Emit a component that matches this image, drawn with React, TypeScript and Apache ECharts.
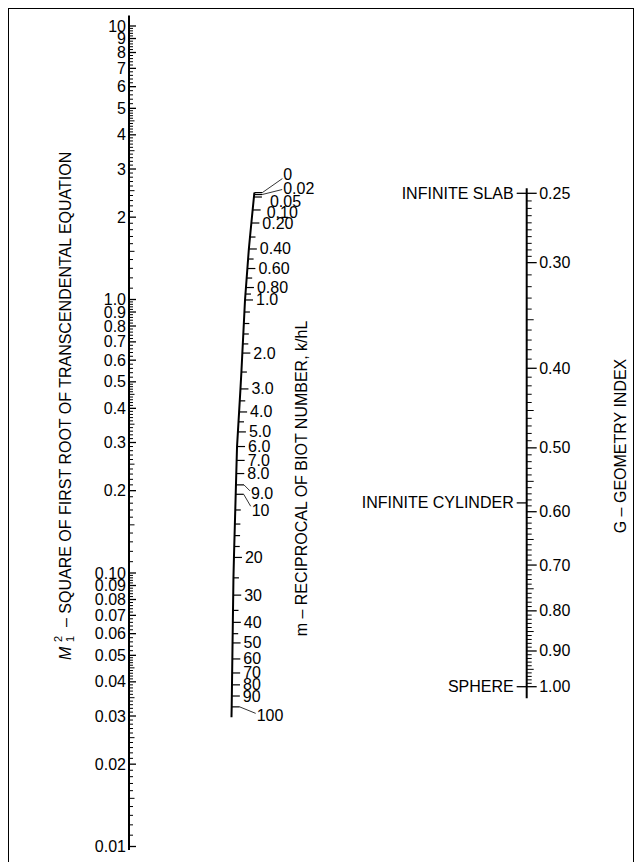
import React, { useEffect, useRef } from 'react';
import * as echarts from 'echarts';

const FONT = '"Liberation Sans", Arial, Helvetica, sans-serif';

// ---------------- Left scale: M1^2 (logarithmic) ----------------
const leftMajorValues = [
  0.01, 0.02, 0.03, 0.04, 0.05, 0.06, 0.07, 0.08, 0.09, 0.1,
  0.2, 0.3, 0.4, 0.5, 0.6, 0.7, 0.8, 0.9, 1,
  2, 3, 4, 5, 6, 7, 8, 9, 10,
];
const leftMajorLabels = [
  '0.01', '0.02', '0.03', '0.04', '0.05', '0.06', '0.07', '0.08', '0.09', '0.10',
  '0.2', '0.3', '0.4', '0.5', '0.6', '0.7', '0.8', '0.9', '1.0',
  '2', '3', '4', '5', '6', '7', '8', '9', '10',
];
const leftDecades = [0.01, 0.1, 1];
// subdivisions of each decade, in tenths of its unit: [from, to, step]
const leftMinorRanges = [
  [10, 50, 1],
  [50, 100, 2],
];

// ---------------- Middle scale: m = k/hL (curved) ----------------
const mValues = [
  0, 0.02, 0.05, 0.1, 0.2, 0.3, 0.4, 0.5, 0.6, 0.7, 0.8, 0.9, 1,
  1.2, 1.4, 1.6, 1.8, 2, 2.5, 3, 3.5, 4, 4.5, 5, 6, 7, 8, 9, 10,
  12, 14, 16, 18, 20, 25, 30, 35, 40, 45, 50, 60, 70, 80, 90, 100,
];
const mLabels = [
  '0', '0.02', '0.05', '0.10', '0.20', '', '0.40', '', '0.60', '', '0.80', '', '1.0',
  '', '', '', '', '2.0', '', '3.0', '', '4.0', '', '5.0', '6.0', '7.0', '8.0', '9.0', '10',
  '', '', '', '', '20', '', '30', '', '40', '', '50', '60', '70', '80', '90', '100',
];
// height of each m tick, read as the M1^2 value level with it on the left scale
const mLevels = [
  2.46, 2.42, 2.37, 2.125, 1.904, 1.692, 1.53, 1.406, 1.298, 1.198, 1.106, 1.047, 0.996,
  0.9, 0.817, 0.748, 0.688, 0.637, 0.543, 0.471, 0.426, 0.388, 0.357, 0.328, 0.29, 0.258, 0.231, 0.21, 0.194,
  0.17, 0.151, 0.137, 0.125, 0.114, 0.096, 0.083, 0.073, 0.066, 0.06, 0.0555, 0.0485, 0.0431, 0.039, 0.0355, 0.0324,
];
// shape of the m curve: level on the M1^2 scale and horizontal place (0 = M1^2 axis, 1 = G axis)
const curveLevels = [2.46, 1.555, 0.996, 0.508, 0.289, 0.1, 0.0324, 0.0297];
const curveX = [0.315, 0.3015, 0.2915, 0.2814, 0.2714, 0.2626, 0.258, 0.2575];

// ---------------- Right scale: G geometry index ----------------
const gMajorValues = [0.25, 0.3, 0.4, 0.5, 0.6, 0.7, 0.8, 0.9, 1.0];
const gMajorLabels = ['0.25', '0.30', '0.40', '0.50', '0.60', '0.70', '0.80', '0.90', '1.00'];
const gMarkerNames = ['INFINITE SLAB', 'INFINITE CYLINDER', 'SPHERE'];
const gMarkerValues = [0.25, 0.585, 1.0];

// the printed G scale (fitted to its ticks)
const gScale = (g: number) => Math.log10(g - 0.04);

type Tick = { v: number; kind: number; label: string };

const leftTicks: Tick[] = [];
leftMajorValues.forEach((v, i) => leftTicks.push({ v, kind: 0, label: leftMajorLabels[i] }));
leftDecades.forEach((b) =>
  leftMinorRanges.forEach(([a, c, s]) => {
    for (let n = a; n < c; n += s) {
      if (n % 10 === 0) continue;
      leftTicks.push({ v: +((n * b) / 10).toPrecision(6), kind: n % 5 === 0 ? 1 : 2, label: '' });
    }
  })
);

const gTicks: Tick[] = [];
gMajorValues.forEach((v, i) => gTicks.push({ v, kind: 0, label: gMajorLabels[i] }));
for (let k = 50; k <= 200; k++) {
  const g = k / 200;
  if (k >= 60 && k % 2 === 1) continue;
  if (gMajorValues.some((m) => Math.abs(m - g) < 1e-9)) continue;
  gTicks.push({ v: g, kind: k % 10 === 0 ? 1 : 2, label: '' });
}

const curveXAt = (level: number) => {
  const L = Math.log10(level);
  const n = curveLevels.length;
  if (L >= Math.log10(curveLevels[0])) return curveX[0];
  for (let i = 0; i < n - 1; i++) {
    const a = Math.log10(curveLevels[i]);
    const b = Math.log10(curveLevels[i + 1]);
    if (L <= a && L >= b) {
      const f = (L - a) / (b - a);
      return curveX[i] + f * (curveX[i + 1] - curveX[i]);
    }
  }
  return curveX[n - 1];
};

const mPoints = mValues.map((_, i) => [curveXAt(mLevels[i]), mLevels[i]]);
const curvePoints = [
  [curveX[0], curveLevels[0]],
  ...mPoints,
  [curveX[curveX.length - 1], curveLevels[curveLevels.length - 1]],
];

// label nudges (layout only)
const mLabelNudge: Record<string, { dx: number; dy: number; leader?: number }> = {
  '0': { dx: 18, dy: -18.5, leader: 4.5 },
  '0.02': { dx: 18, dy: -6, leader: 1 },
  '0.05': { dx: 5, dy: 4.5 },
  '0.10': { dx: 3, dy: 2.5 },
  '9.0': { dx: 4, dy: 9, leader: -3 },
  '10': { dx: 5, dy: 16, leader: -4 },
  '100': { dx: 14, dy: 8.5, leader: -2 },
};

const seg = (x1: number, y1: number, x2: number, y2: number, w = 1) => ({
  type: 'line',
  silent: true,
  shape: { x1, y1, x2, y2 },
  style: { stroke: '#000', lineWidth: w },
});

const txt = (text: string, x: number, y: number, align: string, size = 16, extra: any = {}) => ({
  type: 'text',
  x,
  y,
  silent: true,
  style: {
    text,
    fill: '#000',
    fontSize: size,
    fontFamily: FONT,
    align,
    verticalAlign: 'middle',
    textAlign: align,
    textVerticalAlign: 'middle',
    ...extra,
  },
});

function buildOption(): any {
  return {
    animation: false,
    backgroundColor: '#fff',
    grid: [
      { left: 120, top: 17, width: 398, height: 820.5 },
      { left: 517.7, top: 184.3, width: 10, height: 493.4 },
    ],
    xAxis: [
      { type: 'value', gridIndex: 0, min: 0, max: 1, show: false },
      { type: 'value', gridIndex: 1, min: 0, max: 1, show: false },
    ],
    yAxis: [
      { type: 'log', logBase: 10, gridIndex: 0, min: 0.01, max: 10, show: false },
      { type: 'value', gridIndex: 1, inverse: true, min: gScale(0.25), max: gScale(1.0), show: false },
    ],
    series: [
      // left axis line
      {
        type: 'custom',
        xAxisIndex: 0,
        yAxisIndex: 0,
        clip: false,
        silent: true,
        data: [[0, leftMajorValues[0], leftMajorValues[leftMajorValues.length - 1]]],
        renderItem: (params: any, api: any) => {
          const top = api.coord([0, api.value(2)]);
          const bot = api.coord([0, api.value(1)]);
          return seg(top[0], top[1] - 10.5, bot[0], bot[1] + 3.5, 2);
        },
      },
      // left ticks and labels
      {
        type: 'custom',
        xAxisIndex: 0,
        yAxisIndex: 0,
        clip: false,
        silent: true,
        data: leftTicks.map((t) => [0, t.v, t.kind]),
        renderItem: (params: any, api: any) => {
          const t = leftTicks[params.dataIndex];
          const p = api.coord([0, t.v]);
          const len = [7, 5.5, 4][t.kind];
          const children: any[] = [seg(p[0], p[1], p[0] + len, p[1], t.kind === 0 ? 1.3 : 1)];
          if (t.label) children.push(txt(t.label, p[0] - 3, p[1], 'right'));
          return { type: 'group', children };
        },
      },
      // m curve
      {
        type: 'line',
        xAxisIndex: 0,
        yAxisIndex: 0,
        data: curvePoints,
        symbol: 'none',
        showSymbol: false,
        silent: true,
        clip: false,
        lineStyle: { color: '#000', width: 2 },
      },
      // m ticks and labels
      {
        type: 'custom',
        xAxisIndex: 0,
        yAxisIndex: 0,
        clip: false,
        silent: true,
        data: mPoints,
        renderItem: (params: any, api: any) => {
          const i = params.dataIndex;
          const p = api.coord([api.value(0), api.value(1)]);
          const lab = mLabels[i];
          const len = lab ? 8 : 5.5;
          const x2 = p[0] + len;
          const children: any[] = [seg(p[0], p[1], x2, p[1], 1.2)];
          if (lab) {
            const n = mLabelNudge[lab] || { dx: 0, dy: 0 };
            const lx = x2 + 3 + n.dx;
            const ly = p[1] + n.dy;
            children.push(txt(lab, lx, ly, 'left'));
            if (n.leader !== undefined) children.push(seg(x2, p[1], lx - 1, ly + n.leader, 0.8));
          }
          return { type: 'group', children };
        },
      },
      // G axis line
      {
        type: 'custom',
        xAxisIndex: 1,
        yAxisIndex: 1,
        clip: false,
        silent: true,
        data: [[0, gScale(gMajorValues[0]), gScale(gMajorValues[gMajorValues.length - 1])]],
        renderItem: (params: any, api: any) => {
          const top = api.coord([0, api.value(1)]);
          const bot = api.coord([0, api.value(2)]);
          return seg(top[0], top[1] - 5, bot[0], bot[1] + 11.5, 2);
        },
      },
      // G ticks and labels
      {
        type: 'custom',
        xAxisIndex: 1,
        yAxisIndex: 1,
        clip: false,
        silent: true,
        data: gTicks.map((t) => [0, gScale(t.v)]),
        renderItem: (params: any, api: any) => {
          const t = gTicks[params.dataIndex];
          const p = api.coord([0, api.value(1)]);
          const len = [10, 7, 5][t.kind];
          const children: any[] = [seg(p[0], p[1], p[0] + len, p[1], t.kind === 0 ? 1.3 : 1)];
          if (t.label) children.push(txt(t.label, p[0] + 12.5, p[1], 'left'));
          return { type: 'group', children };
        },
      },
      // G geometry markers
      {
        type: 'custom',
        xAxisIndex: 1,
        yAxisIndex: 1,
        clip: false,
        silent: true,
        data: gMarkerValues.map((g) => [0, gScale(g)]),
        renderItem: (params: any, api: any) => {
          const p = api.coord([0, api.value(1)]);
          return {
            type: 'group',
            children: [
              seg(p[0] - 10, p[1], p[0], p[1], 1.3),
              txt(gMarkerNames[params.dataIndex], p[0] - 13, p[1], 'right'),
            ],
          };
        },
      },
    ],
    graphic: [
      {
        type: 'group',
        x: 56,
        y: 651,
        rotation: Math.PI / 2,
        silent: true,
        children: [
          txt('M', 0, 0, 'left', 16, { fontStyle: 'italic' }),
          txt('2', 18, -7, 'left', 11),
          txt('1', 18, 5, 'left', 11),
          txt('\u2013 SQUARE OF FIRST ROOT OF TRANSCENDENTAL EQUATION', 33, 0, 'left'),
        ],
      },
      {
        ...txt('m \u2013 RECIPROCAL OF BIOT NUMBER, k/hL', 292, 469.5, 'center'),
        rotation: Math.PI / 2,
      },
      {
        ...txt('G \u2013 GEOMETRY INDEX', 611, 437, 'center'),
        rotation: Math.PI / 2,
      },
    ],
  };
}

export default function App() {
  const ref = useRef<HTMLDivElement>(null);
  useEffect(() => {
    if (!ref.current) return;
    const chart = echarts.init(ref.current, null, { renderer: 'svg' });
    chart.setOption(buildOption());
    return () => chart.dispose();
  }, []);
  return (
    <div
      style={{
        position: 'fixed',
        left: 8,
        top: 8,
        width: 624,
        height: 860,
        border: '1px solid #000',
        background: '#fff',
        overflow: 'hidden',
      }}
    >
      <div ref={ref} style={{ width: 624, height: 853 }} />
    </div>
  );
}
